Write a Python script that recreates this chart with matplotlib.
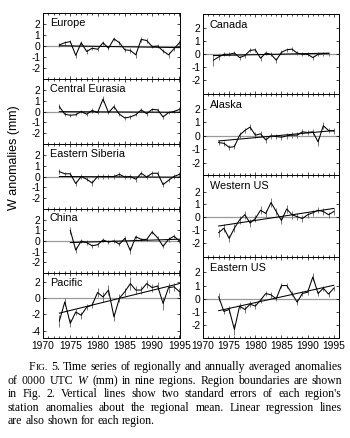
import numpy as np
import matplotlib
matplotlib.use("Agg")
import matplotlib.pyplot as plt
from matplotlib.ticker import MultipleLocator, FixedLocator

plt.rcParams['font.family'] = ['Liberation Sans', 'DejaVu Sans']
plt.rcParams['axes.unicode_minus'] = False
plt.rcParams['mathtext.fontset'] = 'custom'
plt.rcParams['mathtext.it'] = 'Liberation Serif:italic'
plt.rcParams['mathtext.rm'] = 'Liberation Serif'

years = list(range(1973, 1996))
years_canada = list(range(1972, 1995))
years_china = list(range(1975, 1996))

europe = [0.1, 0.3, 0.4, -0.85, 0.3, -0.5, -0.2, -0.3, 0.3, -0.2, 0.65, 0.3, -0.35,
          -0.4, -0.8, 0.6, 0.5, -0.05, 0.0, -0.45, -0.8, -0.25, 0.3]
europe_err = [0.15, 0.2, 0.15, 0.25, 0.2, 0.2, 0.15, 0.15, 0.2, 0.2, 0.2, 0.2, 0.15,
              0.2, 0.25, 0.2, 0.2, 0.15, 0.15, 0.2, 0.25, 0.2, 0.25]
central = [0.45, -0.25, -0.35, -0.3, 0.0, -0.25, 0.1, -0.1, 1.15, -0.1, 0.45, -0.25, -0.6,
           -0.5, -0.3, 0.15, -0.2, 0.2, 0.15, -0.5, -0.1, 0.0, 0.2]
central_err = [0.25, 0.2, 0.15, 0.15, 0.15, 0.15, 0.2, 0.15, 0.3, 0.15, 0.2, 0.15, 0.2,
               0.2, 0.15, 0.15, 0.2, 0.15, 0.2, 0.2, 0.15, 0.15, 0.2]
siberia = [0.45, 0.25, 0.25, -0.65, 0.0, -0.25, -0.6, 0.0, 0.0, 0.0, 0.0, 0.2, -0.05,
           0.0, -0.25, 0.3, -0.05, 0.3, 0.3, -0.75, -0.35, 0.0, 0.2]
siberia_err = [0.2, 0.2, 0.2, 0.25, 0.2, 0.2, 0.25, 0.2, 0.2, 0.25, 0.25, 0.25, 0.2,
               0.2, 0.25, 0.2, 0.2, 0.25, 0.2, 0.25, 0.2, 0.2, 0.2]
china = [1.0, -0.85, 0.0, -0.15, -0.45, -0.35, 0.1, -0.1, 0.0, -0.3, 0.25, -0.9, 0.4,
         0.15, 0.15, 0.85, 0.3, -0.5, 0.15, 0.45, 0.0]
china_err = [0.3, 0.3, 0.2, 0.2, 0.2, 0.2, 0.2, 0.15, 0.15, 0.2, 0.2, 0.3, 0.2,
             0.15, 0.15, 0.2, 0.2, 0.2, 0.2, 0.2, 0.2]
pacific = [-2.8, -0.45, -3.1, -1.7, -2.1, -1.1, -0.85, 0.7, 0.15, 1.0, -2.3, 0.0, 0.8,
           1.8, 1.0, 1.0, 1.8, 1.3, 1.5, -0.65, 1.3, 1.4, 0.8]
pacific_err = [0.7, 0.5, 0.5, 0.4, 0.4, 0.4, 0.4, 0.5, 0.6, 0.6, 0.5, 0.5, 0.5,
               0.8, 0.5, 0.5, 0.5, 0.5, 0.5, 0.8, 0.6, 0.5, 0.5]

canada = [-0.45, -0.2, 0.0, 0.0, 0.1, -0.25, -0.1, 0.3, 0.35, -0.3, 0.1, 0.0, -0.45,
          0.15, 0.35, 0.4, 0.1, 0.0, 0.0, -0.25, 0.0, 0.05, 0.05]
canada_err = [0.45, 0.25, 0.15, 0.15, 0.15, 0.15, 0.15, 0.15, 0.15, 0.2, 0.15, 0.15, 0.2,
              0.15, 0.15, 0.15, 0.15, 0.15, 0.15, 0.15, 0.15, 0.15, 0.15]
alaska = [-0.5, -0.55, -0.85, -0.8, 0.05, 0.4, 0.65, 0.05, 0.15, -0.3, 0.0, -0.05, -0.1,
          0.0, 0.05, 0.05, 0.3, 0.25, 0.3, -0.45, 0.75, 0.4, 0.35]
alaska_err = [0.2, 0.2, 0.2, 0.2, 0.2, 0.2, 0.25, 0.2, 0.2, 0.2, 0.2, 0.2, 0.2,
              0.2, 0.2, 0.2, 0.2, 0.2, 0.2, 0.3, 0.25, 0.2, 0.2]
wus = [-1.2, -0.85, -1.65, -0.85, -0.2, 0.2, -0.45, -0.1, 0.55, 0.3, 1.15, 0.45, -0.25,
       0.65, 0.2, 0.05, -0.1, 0.2, 0.35, 0.55, 0.45, 0.2, 0.45]
wus_err = [0.3, 0.3, 0.3, 0.3, 0.3, 0.3, 0.3, 0.3, 0.3, 0.3, 0.35, 0.3, 0.3,
           0.3, 0.3, 0.3, 0.25, 0.25, 0.25, 0.25, 0.25, 0.25, 0.25]
eus = [0.15, -0.95, -0.8, -2.3, -0.55, -0.8, -0.4, -0.55, -0.1, 0.4, 0.3, 0.0, 1.0,
       1.0, 0.4, -0.25, 0.4, 0.5, 1.65, 0.4, 0.8, 0.35, 0.8]
eus_err = [0.3, 0.2, 0.25, 0.4, 0.2, 0.25, 0.2, 0.2, 0.2, 0.2, 0.2, 0.2, 0.2,
           0.2, 0.2, 0.2, 0.2, 0.2, 0.3, 0.2, 0.2, 0.2, 0.2]

left_panels = [
    ("Europe", years, europe, europe_err, (-3, 3), [2, 1, 0, -1, -2]),
    ("Central Eurasia", years, central, central_err, (-3, 3), [2, 1, 0, -1, -2]),
    ("Eastern Siberia", years, siberia, siberia_err, (-3, 3), [2, 1, 0, -1, -2]),
    ("China", years_china, china, china_err, (-3, 3), [2, 1, 0, -1, -2]),
    ("Pacific", years, pacific, pacific_err, (-4.9, 3.1), [2, 0, -2, -4]),
]
right_panels = [
    ("Canada", years_canada, canada, canada_err, (-3.05, 3.1), [2, 1, 0, -1, -2]),
    ("Alaska", years, alaska, alaska_err, (-2.9, 3.1), [2, 1, 0, -1, -2]),
    ("Western US", years, wus, wus_err, (-3.1, 3.3), [2, 1, 0, -1, -2]),
    ("Eastern US", years, eus, eus_err, (-2.95, 3.15), [2, 1, 0, -1, -2]),
]

W, H = 350, 438
fig = plt.figure(figsize=(W / 100, H / 100), dpi=100)

left_rows = [(13, 79), (79, 144), (144, 209), (209, 273), (273, 338)]
right_rows = [(14, 94), (94, 175), (175, 257), (257, 338)]


def make_axes(x0, x1, y0, y1):
    return fig.add_axes([x0 / W, 1 - y1 / H, (x1 - x0) / W, (y1 - y0) / H])


def draw(ax, name, xs, ys, err, ylim, yt, xlim, bottom):
    xs = np.array(xs, float)
    ys = np.array(ys, float)
    err = np.array(err, float)
    ax.axhline(0, color='#9a9a9a', lw=0.9, zorder=1)
    ax.vlines(xs, ys - err, ys + err, color='#555555', lw=0.55, zorder=2)
    ax.plot(xs, ys, color='black', lw=0.75, zorder=3)
    b, a = np.polyfit(xs, ys, 1)
    ax.plot([xs[0], xs[-1]], [a + b * xs[0], a + b * xs[-1]], color='black', lw=0.75, zorder=3)
    ax.set_xlim(*xlim)
    ax.set_ylim(*ylim)
    ax.yaxis.set_major_locator(FixedLocator(yt))
    ax.xaxis.set_major_locator(FixedLocator([1970, 1975, 1980, 1985, 1990, 1995]))
    ax.xaxis.set_minor_locator(MultipleLocator(1))
    ax.tick_params(which='both', direction='in', top=True, right=True, labelsize=7.4,
                   pad=2, width=0.5)
    ax.tick_params(which='major', length=2.5)
    ax.tick_params(which='minor', length=1.3)
    if not bottom:
        ax.tick_params(labelbottom=False)
    for s in ax.spines.values():
        s.set_linewidth(0.7)
    ax.text(0.05, 0.93, name, transform=ax.transAxes, ha='left', va='top', fontsize=7.8)


for i, (row, p) in enumerate(zip(left_rows, left_panels)):
    ax = make_axes(43, 180, row[0], row[1])
    draw(ax, *p, xlim=(1970, 1995.1), bottom=(i == len(left_rows) - 1))
for i, (row, p) in enumerate(zip(right_rows, right_panels)):
    ax = make_axes(203, 339, row[0], row[1])
    draw(ax, *p, xlim=(1970, 1996), bottom=(i == len(right_rows) - 1))

fig.text(14 / W, 1 - 158 / H, "W anomalies (mm)", rotation=90, ha='center', va='center',
         fontsize=9)

# caption with justified lines
fs = 8.5
cap_line1 = "Time series of regionally and annually averaged anomalies"
cap_line2 = "of 0000 UTC $W$ (mm) in nine regions. Region boundaries are shown"
cap_line3 = "in Fig. 2. Vertical lines show two standard errors of each region's"
cap_line4 = "station anomalies about the regional mean. Linear regression lines"
cap_line5 = "are also shown for each region."
lines = [
    [[("F", fs), ("IG.", 6.8)], [("5.", fs)]] + [[(w, fs)] for w in cap_line1.split()],
    [[(w, fs)] for w in cap_line2.split()],
    [[(w, fs)] for w in cap_line3.split()],
    [[(w, fs)] for w in cap_line4.split()],
    [[(w, fs)] for w in cap_line5.split()],
]
starts = [29, 8, 8, 8, 8]
ends = [342, 342, 342, 342, None]
baselines = [370, 384, 397, 411, 424]

fig.canvas.draw()
r = fig.canvas.get_renderer()
cap_font = 'Liberation Serif'


def seg_width(text, size):
    t = fig.text(0, 0, text, fontsize=size, family=cap_font)
    w = t.get_window_extent(renderer=r).width
    t.remove()
    return w


space_w = seg_width("a a", fs) - seg_width("aa", fs)
for words, x0, x1, yb in zip(lines, starts, ends, baselines):
    widths = [sum(seg_width(t, s) for t, s in wd) for wd in words]
    if x1 is None:
        gap = space_w
    else:
        gap = (x1 - x0 - sum(widths)) / (len(words) - 1)
    x = x0
    for wd, wdw in zip(words, widths):
        xx = x
        for t, s in wd:
            fig.text(xx / W, 1 - yb / H, t, fontsize=s, family=cap_font, ha='left',
                     va='baseline')
            xx += seg_width(t, s)
        x += wdw + gap

fig.savefig("out.png", dpi=100)
